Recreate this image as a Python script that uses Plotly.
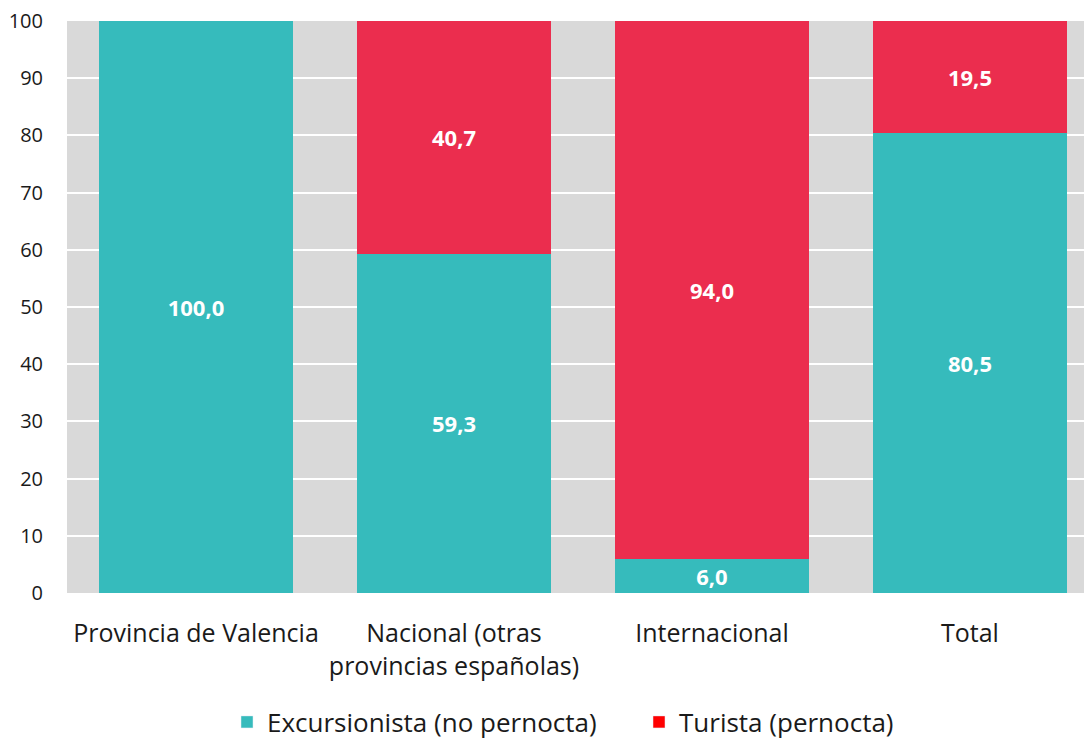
import plotly.graph_objects as go

categories = ["Provincia de Valencia", "Nacional (otras<br>provincias españolas)", "Internacional", "Total"]
excursionista = [100.0, 59.3, 6.0, 80.5]
turista = [0.0, 40.7, 94.0, 19.5]
series_names = ["Excursionista (no pernocta)", "Turista (pernocta)"]
y_ticks = [0, 10, 20, 30, 40, 50, 60, 70, 80, 90, 100]

teal = "#36BBBC"
red = "#EB2D4E"
font = "Open Sans"

def fmt(v):
    return ("%.1f" % v).replace(".", ",") if v > 0 else ""

fig = go.Figure()
fig.add_trace(go.Bar(
    x=categories, y=excursionista, marker_color=teal, marker_line_width=0,
    text=[fmt(v) for v in excursionista], textposition="inside",
    insidetextanchor="middle", constraintext="none",
    textfont=dict(family=font, size=22, color="white", weight="bold"),
    showlegend=False, hoverinfo="skip"))
fig.add_trace(go.Bar(
    x=categories, y=turista, marker_color=red, marker_line_width=0,
    text=[fmt(v) for v in turista], textposition="inside",
    insidetextanchor="middle", constraintext="none",
    textfont=dict(family=font, size=22, color="white", weight="bold"),
    showlegend=False, hoverinfo="skip"))
# legend entries
fig.add_trace(go.Bar(x=[None], y=[None], marker_color=teal, name=series_names[0]))
fig.add_trace(go.Bar(x=[None], y=[None], marker_color="#FF0000", name=series_names[1]))

fig.update_layout(
    barmode="stack",
    bargap=0.25,
    width=1084, height=740,
    margin=dict(l=67, r=0, t=21, b=147, autoexpand=False),
    plot_bgcolor="#D9D9D9",
    paper_bgcolor="white",
    font=dict(family=font, color="#1a1a1a"),
    legend=dict(orientation="h", x=(243 - 16) / 1084, xanchor="left", xref="container",
                y=(740 - 722) / 740, yref="container", yanchor="middle",
                font=dict(size=26, family=font, color="#1a1a1a"),
                traceorder="normal", itemwidth=30,
                entrywidth=367, entrywidthmode="pixels"),
)
fig.update_xaxes(range=[-0.5, 3.442], showgrid=False, ticks="", tickfont=dict(size=25, family=font),
                 showline=False, zeroline=False, automargin=False, ticklabelstandoff=23)
fig.update_yaxes(range=[0, 100], tickvals=y_ticks, showgrid=True, gridcolor="white", gridwidth=1.5,
                 tickfont=dict(size=20, family=font), ticks="", zeroline=False, showline=False,
                 ticklabelstandoff=23, automargin=False)

fig.write_html("out.html", config={"displayModeBar": False},
               post_script="document.body.style.margin='0';document.body.style.padding='0';")
